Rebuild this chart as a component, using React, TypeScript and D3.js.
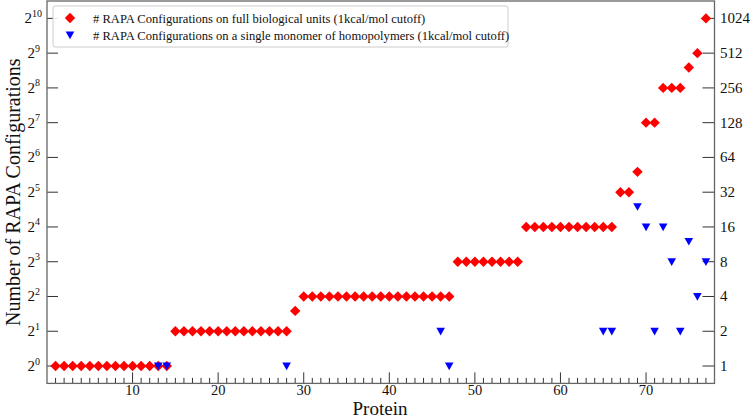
import React from "react";
import * as d3 from "d3";

const proteins = d3.range(1, 78);
const fullUnits = [
  1, 1, 1, 1, 1, 1, 1, 1, 1, 1, 1, 1, 1, 1,
  2, 2, 2, 2, 2, 2, 2, 2, 2, 2, 2, 2, 2, 2,
  3,
  4, 4, 4, 4, 4, 4, 4, 4, 4, 4, 4, 4, 4, 4, 4, 4, 4, 4,
  8, 8, 8, 8, 8, 8, 8, 8,
  16, 16, 16, 16, 16, 16, 16, 16, 16, 16, 16,
  32, 32, 48, 128, 128, 256, 256, 256, 384, 512, 1024,
];
const monoProteins = [13, 14, 28, 46, 47, 65, 66, 69, 70, 71, 72, 73, 74, 75, 76, 77];
const monoValues = [1, 1, 1, 2, 1, 2, 2, 24, 16, 2, 16, 8, 2, 12, 4, 8];
const yExponents = d3.range(0, 11);
const xTicks = [10, 20, 30, 40, 50, 60, 70];
const legendLabels = [
  "# RAPA Configurations on full biological units (1kcal/mol cutoff)",
  "# RAPA Configurations on a single monomer of homopolymers (1kcal/mol cutoff)",
];

const W = 750;
const H = 418;
const L = 47;
const R = 714.5;
const T = 1;
const B = 383.4;
const FONT = "Liberation Serif, DejaVu Serif, serif";

export default function App() {
  const x = d3.scaleLinear().domain([0, 78]).range([L, R]);
  const y = d3.scaleLog().base(2).domain([Math.pow(2, -0.5), Math.pow(2, 10.5)]).range([B, T]);
  const diamond = "M0,-5.2L5.2,0L0,5.2L-5.2,0Z";
  const tri = "M-4.3,-3.4L4.3,-3.4L0,4.2Z";
  const minor = d3.range(1, 78);
  const ts = { fontFamily: FONT };

  return (
    <svg width={W} height={H} style={{ position: "absolute", left: 0, top: 0, fontFamily: FONT }}>
      <rect x={0} y={0} width={W} height={H} fill="#fff" />
      {minor.map((v) => (
        <line key={"m" + v} x1={x(v)} x2={x(v)} y1={B} y2={B - (v % 10 === 0 ? 11 : 5.5)} stroke="#333" strokeWidth={1} />
      ))}
      {xTicks.map((v) => (
        <text key={"xt" + v} x={x(v)} y={395} textAnchor="middle" fontSize={14.5} fill="#111" style={ts}>{v}</text>
      ))}
      {yExponents.map((e) => (
        <g key={"y" + e}>
          <line x1={L} x2={L + 11} y1={y(Math.pow(2, e))} y2={y(Math.pow(2, e))} stroke="#333" />
          <line x1={R - 12} x2={R} y1={y(Math.pow(2, e))} y2={y(Math.pow(2, e))} stroke="#333" />
          <text x={e >= 10 ? 32 : 35} y={y(Math.pow(2, e)) + 5} textAnchor="end" fontSize={15} fill="#111" style={ts}>
            2
          </text>
          <text x={e >= 10 ? 32 : 35} y={y(Math.pow(2, e)) - 1.5} textAnchor="start" fontSize={10} fill="#111" style={ts}>
            {e}
          </text>
          <text x={720} y={y(Math.pow(2, e)) + 5} textAnchor="start" fontSize={15} fill="#111" style={ts}>
            {Math.pow(2, e)}
          </text>
        </g>
      ))}
      <rect x={L} y={T} width={R - L} height={B - T} fill="none" stroke="#666" strokeWidth={1.3} />
      {proteins.map((p, i) => (
        <path key={"d" + p} d={diamond} transform={`translate(${x(p)},${y(fullUnits[i])})`} fill="#ff0000" />
      ))}
      {monoProteins.map((p, i) => (
        <path key={"t" + p} d={tri} transform={`translate(${x(p)},${y(monoValues[i])})`} fill="#0000ff" />
      ))}
      <rect x={53} y={6} width={455} height={41} rx={2} fill="#fff" fillOpacity={0.9} stroke="#ccc" />
      <path d={diamond} transform="translate(70,18)" fill="#ff0000" />
      <path d={tri} transform="translate(70,35)" fill="#0000ff" />
      <text x={93} y={22.5} fontSize={12.6} fill="#111" style={ts}>{legendLabels[0]}</text>
      <text x={93} y={39.5} fontSize={12.6} fill="#111" style={ts}>{legendLabels[1]}</text>
      <text x={380} y={415} textAnchor="middle" fontSize={19} fill="#111" style={ts}>Protein</text>
      <text transform={`translate(20,${(T + B) / 2}) rotate(-90)`} textAnchor="middle" fontSize={20} fill="#111" style={ts}>
        Number of RAPA Configurations
      </text>
    </svg>
  );
}
